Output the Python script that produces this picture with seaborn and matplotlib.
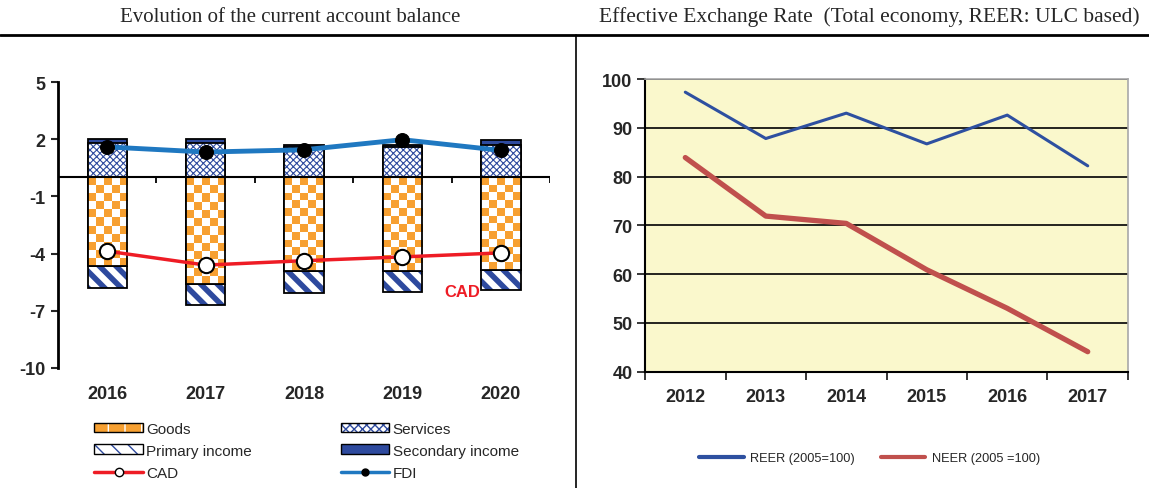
import numpy as np
import pandas as pd
import matplotlib
matplotlib.use('Agg')
import matplotlib.pyplot as plt
import matplotlib.colors as mcolors
from matplotlib.colors import ListedColormap
from matplotlib.patches import Patch, Rectangle
from matplotlib.lines import Line2D
import seaborn as sns

# Left chart: current account components (% of GDP)
years_ca = ['2016', '2017', '2018', '2019', '2020']
goods = [-4.66, -5.58, -4.93, -4.93, -4.87]
services = [1.80, 1.80, 1.58, 1.58, 1.68]
primary_income = [-1.14, -1.12, -1.15, -1.07, -1.03]
secondary_income = [0.20, 0.20, 0.12, 0.12, 0.30]
cad = [-3.87, -4.60, -4.37, -4.17, -3.96]
fdi = [1.60, 1.33, 1.45, 1.98, 1.42]

# Right chart: effective exchange rates
years_er = ['2012', '2013', '2014', '2015', '2016', '2017']
reer = [97.3, 87.8, 93.0, 86.7, 92.6, 82.2]
neer = [83.9, 71.9, 70.4, 60.9, 53.0, 44.1]

ORANGE = '#F7A031'
BLUE = '#2E4A9E'
RED = '#EE1C25'
FDI_BLUE = '#1F78C1'

sns.set_style('white')
plt.rcParams['font.family'] = ['Liberation Sans', 'DejaVu Sans']
plt.rcParams['axes.unicode_minus'] = False


def hatch_color(patch, color):
    # hatch follows the edge colour by default; keep black outlines with coloured hatching
    if hasattr(patch, 'set_hatchcolor'):
        patch.set_hatchcolor(color)
    else:
        patch._hatch_color = mcolors.to_rgba(color)


fig = plt.figure(figsize=(11.49, 4.89), dpi=100)
ax = fig.add_axes([0.0505, 0.2454, 0.4282, 0.5846])
ax2 = fig.add_axes([0.5614, 0.2378, 0.4203, 0.5986])

df = pd.DataFrame({'year': years_ca, 'goods': goods, 'services': services,
                   'primary': primary_income, 'secondary': secondary_income})
df['pos_total'] = df['services'] + df['secondary']
df['neg_total'] = df['goods'] + df['primary']

bar_kw = dict(width=0.4, saturation=1, errorbar=None, edgecolor='black', linewidth=1.3, ax=ax)

# positive side: secondary income on top of services
sns.barplot(data=df, x='year', y='pos_total', color=BLUE, zorder=2, **bar_kw)
n0 = len(ax.patches)
with plt.rc_context({'hatch.linewidth': 0.8}):
    sns.barplot(data=df, x='year', y='services', color='white', hatch='xxxxx', zorder=2.2, **bar_kw)
# negative side: primary income below goods
with plt.rc_context({'hatch.linewidth': 4.0}):
    sns.barplot(data=df, x='year', y='neg_total', color='white', hatch='\\\\', zorder=2, **bar_kw)
for p in ax.patches[n0:]:
    hatch_color(p, BLUE)
n_before = len(ax.patches)
sns.barplot(data=df, x='year', y='goods', color='white', zorder=2.2, **bar_kw)

# checkerboard fill for goods
checker_cmap = ListedColormap([ORANGE, 'white'])
for bar in ax.patches[n_before:]:
    x0, y0, w, h = bar.get_x(), bar.get_y(), bar.get_width(), bar.get_height()
    ny = max(1, int(round(abs(h) / 0.42)))
    cells = np.add.outer(np.arange(ny), np.arange(5)) % 2
    im = ax.imshow(cells, extent=(x0, x0 + w, y0 + h, y0), cmap=checker_cmap,
                   aspect='auto', interpolation='nearest', zorder=2.3)
    im.set_clip_path(bar)
    ax.add_patch(Rectangle((x0, y0), w, h, fill=False, edgecolor='black', linewidth=1.3, zorder=2.4))

xpos = np.arange(len(years_ca))
sns.lineplot(x=xpos, y=fdi, ax=ax, color=FDI_BLUE, linewidth=3.5, marker='o', markersize=10,
             markerfacecolor='black', markeredgecolor='black', zorder=4)
sns.lineplot(x=xpos, y=cad, ax=ax, color=RED, linewidth=2.5, marker='o', markersize=11,
             markerfacecolor='white', markeredgecolor='black', markeredgewidth=1.5, zorder=4)
ax.text(3.61, -6.0, 'CAD', color=RED, fontsize=12, fontweight='bold', ha='center', va='center')

ax.axhline(0, color='black', linewidth=1.5, zorder=3)
ax.vlines(np.arange(len(years_ca)) + 0.5, -0.3, 0, color='black', linewidth=1.3, zorder=3)
ax.set_xlim(-0.5, 4.5)
ax.set_ylim(-10, 5)
ax.set_yticks([5, 2, -1, -4, -7, -10])
ax.set_xticks(xpos)
ax.set_xticklabels(years_ca)
ax.tick_params(axis='x', length=0, pad=12, labelsize=13)
ax.tick_params(axis='y', length=5, width=1.5, direction='out', left=True, labelsize=13, pad=4)
for lab in ax.get_xticklabels() + ax.get_yticklabels():
    lab.set_fontweight('bold')
for s in ['top', 'right', 'bottom']:
    ax.spines[s].set_visible(False)
ax.spines['left'].set_linewidth(2)
ax.spines['left'].set_color('black')
ax.set_xlabel('')
ax.set_ylabel('')

with plt.rc_context({'hatch.linewidth': 5}):
    h_goods = Patch(facecolor=ORANGE, edgecolor='black', hatch='|', label='Goods')
hatch_color(h_goods, 'white')
with plt.rc_context({'hatch.linewidth': 0.8}):
    h_serv = Patch(facecolor='white', edgecolor='black', hatch='xxxx', label='Services')
hatch_color(h_serv, BLUE)
with plt.rc_context({'hatch.linewidth': 3}):
    h_prim = Patch(facecolor='white', edgecolor='black', hatch='\\\\', label='Primary income')
hatch_color(h_prim, BLUE)
h_sec = Patch(facecolor=BLUE, edgecolor='black', label='Secondary income')
h_cad = Line2D([], [], color=RED, linewidth=2.5, marker='o', markersize=6,
               markerfacecolor='white', markeredgecolor='black', label='CAD')
h_fdi = Line2D([], [], color=FDI_BLUE, linewidth=2.5, marker='o', markersize=5,
               markerfacecolor='black', markeredgecolor='black', label='FDI')
ax.legend(handles=[h_goods, h_prim, h_cad, h_serv, h_sec, h_fdi], ncol=2, loc='upper center',
          bbox_to_anchor=(0.505, -0.14), frameon=False, fontsize=11, handlelength=3.2,
          handleheight=0.6, handletextpad=0.2, columnspacing=5.8, labelspacing=0.52)

# Right chart
ax2.set_facecolor('#FAF8CC')
xer = np.arange(len(years_er))
sns.lineplot(x=xer, y=reer, ax=ax2, color='#2E50A0', linewidth=2.2, label='REER (2005=100)')
sns.lineplot(x=xer, y=neer, ax=ax2, color='#C0504D', linewidth=3.8, label='NEER (2005 =100)')
ax2.set_xlim(-0.5, 5.5)
ax2.set_ylim(40, 100)
ax2.set_yticks(range(40, 101, 10))
ax2.set_xticks(xer)
ax2.set_xticklabels(years_er)
ax2.set_xticks(np.arange(len(years_er) + 1) - 0.5, minor=True)
ax2.tick_params(axis='x', which='major', length=0, pad=12, labelsize=13)
ax2.tick_params(axis='x', which='minor', length=6, width=1.3, direction='out', bottom=True)
ax2.tick_params(axis='y', length=6, width=1.3, direction='out', left=True, labelsize=13, pad=3)
for lab in ax2.get_xticklabels() + ax2.get_yticklabels():
    lab.set_fontweight('bold')
ax2.grid(axis='y', color='black', linewidth=1.2)
ax2.grid(axis='x', visible=False)
ax2.set_axisbelow(True)
for s in ['left', 'bottom']:
    ax2.spines[s].set_color('black')
    ax2.spines[s].set_linewidth(1.5)
for s in ['top', 'right']:
    ax2.spines[s].set_color('#A8A8A8')
    ax2.spines[s].set_linewidth(1.2)
leg2 = ax2.legend(loc='upper center', bbox_to_anchor=(0.465, -0.235), ncol=2, frameon=False,
                  fontsize=9.2, handlelength=3.5, columnspacing=2.0, handletextpad=0.5)
for ln in leg2.get_lines():
    ln.set_linewidth(3)

# Titles and separators
fig.text(0.2524, 0.965, 'Evolution of the current account balance', ha='center', va='center',
         fontsize=15, family='Liberation Serif')
fig.text(0.757, 0.965, 'Effective Exchange Rate  (Total economy, REER: ULC based)', ha='center',
         va='center', fontsize=15.5, family='Liberation Serif')
y_sep = 1 - 36 / 489
fig.add_artist(Line2D([0, 1], [y_sep, y_sep], transform=fig.transFigure, color='black', linewidth=2))
fig.add_artist(Line2D([576 / 1149, 576 / 1149], [0, y_sep], transform=fig.transFigure,
                      color='black', linewidth=1.2))

fig.savefig('out.png', dpi=100)
